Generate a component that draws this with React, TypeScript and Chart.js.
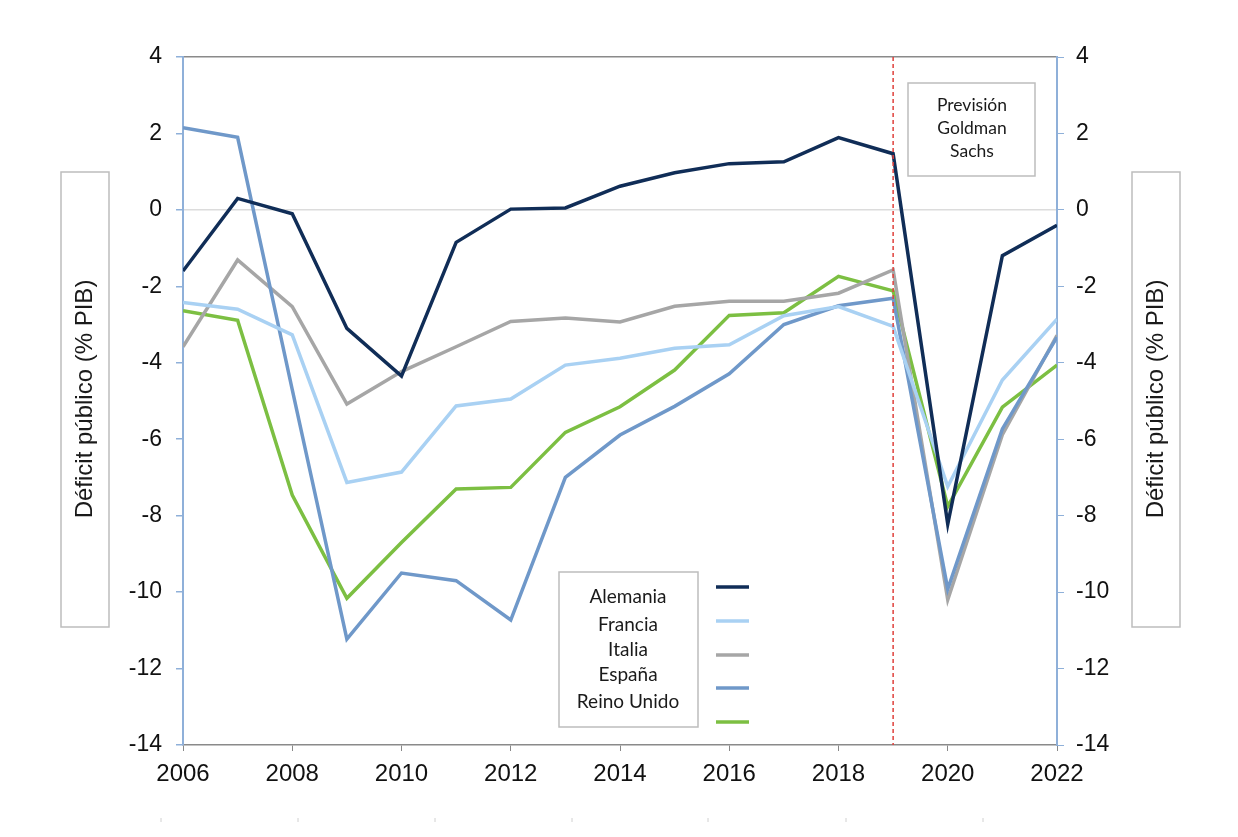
import React, { useEffect, useRef } from "react";
import { Chart, registerables } from "chart.js";

Chart.register(...registerables);

const years = [2006, 2007, 2008, 2009, 2010, 2011, 2012, 2013, 2014, 2015, 2016, 2017, 2018, 2019, 2020, 2021, 2022];
const alemania = [-1.6, 0.3, -0.1, -3.1, -4.35, -0.85, 0.02, 0.05, 0.62, 0.97, 1.21, 1.26, 1.89, 1.47, -8.22, -1.2, -0.4];
const francia = [-2.42, -2.6, -3.27, -7.13, -6.86, -5.13, -4.95, -4.06, -3.88, -3.62, -3.53, -2.77, -2.53, -3.05, -7.24, -4.45, -2.86];
const italia = [-3.58, -1.31, -2.53, -5.08, -4.23, -3.58, -2.92, -2.83, -2.93, -2.52, -2.39, -2.39, -2.18, -1.57, -10.2, -5.88, -3.28];
const espana = [2.15, 1.9, -4.7, -11.23, -9.5, -9.7, -10.73, -7.0, -5.89, -5.14, -4.29, -3.0, -2.51, -2.31, -9.92, -5.73, -3.33];
const reinoUnido = [-2.64, -2.89, -7.46, -10.16, -8.7, -7.3, -7.26, -5.82, -5.15, -4.19, -2.76, -2.69, -1.74, -2.12, -7.76, -5.16, -4.06];

const seriesNames = ["Alemania", "Francia", "Italia", "España", "Reino Unido"];
const seriesColors = ["#102d57", "#a9d1f3", "#a6a6a6", "#6f98c9", "#7cbf42"];
const seriesValues = [alemania, francia, italia, espana, reinoUnido];
const seriesOrder = [1, 2, 4, 3, 5];

const yTicksMin = -14;
const yTicksMax = 4;
const yStep = 2;
const xMin = 2006;
const xMax = 2022;
const xStep = 2;
const forecastYear = 2019;
const axisTitle = "Déficit público (% PIB)";
const forecastLabel = ["Previsión", "Goldman", "Sachs"];

const W = 1238;
const H = 837;

const decorPlugin = {
  id: "decor",
  afterDraw(chart: any) {
    const ctx = chart.ctx;
    const area = chart.chartArea;
    const xs = chart.scales.x;
    ctx.save();

    // forecast dashed line
    const fx = xs.getPixelForValue(forecastYear);
    ctx.strokeStyle = "#e0403c";
    ctx.lineWidth = 1.5;
    ctx.setLineDash([4, 3]);
    ctx.beginPath();
    ctx.moveTo(fx, area.top);
    ctx.lineTo(fx, area.bottom);
    ctx.stroke();
    ctx.setLineDash([]);

    // forecast box
    ctx.fillStyle = "#ffffff";
    ctx.fillRect(908, 83, 127, 93);
    ctx.strokeStyle = "#bdbdbd";
    ctx.lineWidth = 1.5;
    ctx.strokeRect(908, 83, 127, 93);
    ctx.fillStyle = "#1a1a1a";
    ctx.font = "17.5px Lato";
    ctx.textAlign = "center";
    ctx.textBaseline = "middle";
    forecastLabel.forEach((t, i) => ctx.fillText(t, 972, 105 + i * 23));

    // legend box
    ctx.fillStyle = "#ffffff";
    ctx.fillRect(559, 572, 139, 155);
    ctx.strokeStyle = "#bdbdbd";
    ctx.strokeRect(559, 572, 139, 155);
    ctx.fillStyle = "#1a1a1a";
    ctx.font = "19px Lato";
    const textYs = [597, 625, 650, 675, 702];
    seriesNames.forEach((n, i) => ctx.fillText(n, 628, textYs[i]));
    const lineYs = [587, 621, 655, 688, 722];
    ctx.lineWidth = 3.5;
    seriesColors.forEach((c, i) => {
      ctx.strokeStyle = c;
      ctx.beginPath();
      ctx.moveTo(716, lineYs[i]);
      ctx.lineTo(749, lineYs[i]);
      ctx.stroke();
    });

    // axis title boxes
    ctx.strokeStyle = "#bdbdbd";
    ctx.lineWidth = 1.5;
    ctx.strokeRect(61, 172, 48, 455);
    ctx.strokeRect(1132, 172, 48, 455);
    ctx.fillStyle = "#1a1a1a";
    ctx.font = "24px 'Liberation Sans', Arial";
    [85, 1156].forEach((cx) => {
      ctx.save();
      ctx.translate(cx, 399);
      ctx.rotate(-Math.PI / 2);
      ctx.fillText(axisTitle, 0, 0);
      ctx.restore();
    });

    // faint marks at bottom
    ctx.strokeStyle = "#d0d0d0";
    ctx.lineWidth = 1;
    [161, 298, 435, 572, 708, 846, 983].forEach((x) => {
      ctx.beginPath();
      ctx.moveTo(x, 818);
      ctx.lineTo(x, 822);
      ctx.stroke();
    });

    ctx.restore();
  },
};

export default function App() {
  const ref = useRef<HTMLCanvasElement | null>(null);

  useEffect(() => {
    document.body.style.margin = "0";
    const canvas = ref.current;
    if (!canvas) return;
    const datasets = seriesNames.map((name, i) => ({
      label: name,
      data: years.map((yr, j) => ({ x: yr, y: seriesValues[i][j] })),
      borderColor: seriesColors[i],
      backgroundColor: seriesColors[i],
      borderWidth: 3.5,
      pointRadius: 0,
      tension: 0,
      order: seriesOrder[i],
      yAxisID: "y",
    }));

    const chart = new Chart(canvas, {
      type: "line",
      data: { datasets },
      options: {
        animation: false,
        responsive: false,
        devicePixelRatio: 1,
        layout: { padding: { top: 57, left: 0, right: 0, bottom: 0 } },
        plugins: { legend: { display: false }, tooltip: { enabled: false }, title: { display: false } },
        scales: {
          x: {
            type: "linear",
            min: xMin,
            max: xMax,
            afterFit: (s: any) => {
              s.height = H - 745;
            },
            ticks: {
              stepSize: xStep,
              callback: (v: any) => String(v),
              color: "#111",
              font: { family: "'Liberation Sans', Arial", size: 24 },
              padding: 9,
              maxRotation: 0,
            },
            grid: { drawOnChartArea: false, drawTicks: true, tickLength: 6, tickColor: "#888", color: "#888" },
            border: { display: true, color: "#8a8a8a", width: 1.5 },
          },
          y: {
            type: "linear",
            position: "left",
            min: yTicksMin,
            max: yTicksMax,
            afterFit: (s: any) => {
              s.width = 183;
            },
            ticks: {
              stepSize: yStep,
              color: "#111",
              font: { family: "'Liberation Sans', Arial", size: 23 },
              padding: 14,
            },
            grid: {
              drawTicks: true,
              tickLength: 7,
              tickColor: "#8fb0d9",
              lineWidth: 1.5,
              color: (c: any) => {
                const v = c.tick && c.tick.value;
                if (v === 0) return "#dcdcdc";
                if (v === yTicksMax) return "#8a8a8a";
                return "rgba(0,0,0,0)";
              },
            },
            border: { display: true, color: "#8fb0d9", width: 2 },
          },
          y2: {
            type: "linear",
            position: "right",
            min: yTicksMin,
            max: yTicksMax,
            afterFit: (s: any) => {
              s.width = W - 1057;
            },
            ticks: {
              stepSize: yStep,
              color: "#111",
              font: { family: "'Liberation Sans', Arial", size: 23 },
              padding: 12,
            },
            grid: { drawOnChartArea: false, drawTicks: true, tickLength: 7, tickColor: "#8fb0d9" },
            border: { display: true, color: "#8fb0d9", width: 2 },
          },
        },
      },
      plugins: [decorPlugin],
    });
    return () => chart.destroy();
  }, []);

  return (
    <div style={{ width: W, height: H, background: "#fff" }}>
      <canvas ref={ref} width={W} height={H} style={{ width: W, height: H, display: "block" }} />
    </div>
  );
}
